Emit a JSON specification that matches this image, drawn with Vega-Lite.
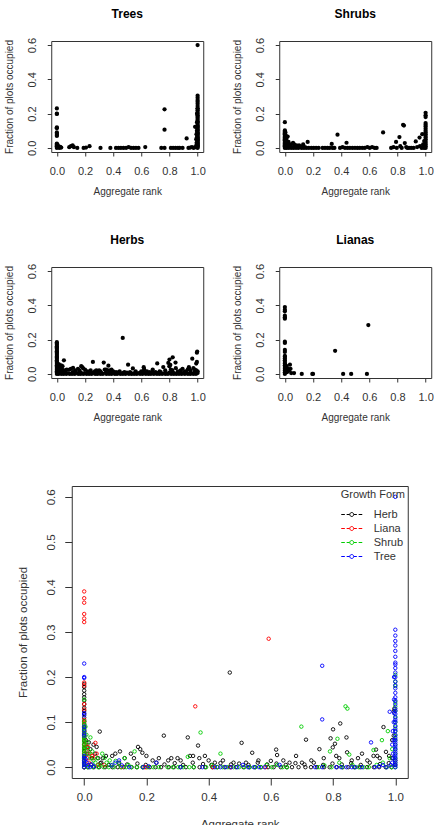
{
"$schema":"https://vega.github.io/schema/vega-lite/v6.json",
"background":"white",
"padding":{"left":3,"top":7,"right":0,"bottom":0},
"config":{
 "font":"Liberation Sans",
 "view":{"stroke":"#333","strokeWidth":1},
 "axis":{"domain":false,"grid":false,"tickColor":"#333","labelColor":"#333","titleColor":"#333","labelFont":"Liberation Sans","titleFont":"Liberation Sans","titleFontWeight":"normal","labelFontSize":11,"titleFontSize":10,"tickSize":4,"labelOverlap":false,"labelFlush":false},
 "axisX":{"labelPadding":9,"titlePadding":10},
 "axisY":{"labelAngle":-90,"labelAlign":"center","labelBaseline":"bottom","labelPadding":10,"titlePadding":12},
 "title":{"font":"Liberation Sans","fontSize":12,"fontWeight":"bold","color":"#000","offset":16,"frame":"group","anchor":"middle"}
},
"datasets":{"pts":[
{"form":"Herb","rank":0,"frac":0.185},{"form":"Herb","rank":0,"frac":0.178},{"form":"Herb","rank":0,"frac":0.17},{"form":"Herb","rank":0,"frac":0.162},{"form":"Herb","rank":0,"frac":0.155},{"form":"Herb","rank":0,"frac":0.148},{"form":"Herb","rank":0,"frac":0.14},{"form":"Herb","rank":0,"frac":0.132},{"form":"Herb","rank":0,"frac":0.125},{"form":"Herb","rank":0,"frac":0.118},{"form":"Herb","rank":0,"frac":0.11},{"form":"Herb","rank":0,"frac":0.102},{"form":"Herb","rank":0,"frac":0.095},{"form":"Herb","rank":0,"frac":0.088},{"form":"Herb","rank":0,"frac":0.08},{"form":"Herb","rank":0,"frac":0.072},{"form":"Herb","rank":0,"frac":0.065},{"form":"Herb","rank":0,"frac":0.058},{"form":"Herb","rank":0,"frac":0.05},{"form":"Herb","rank":0,"frac":0.043},{"form":"Herb","rank":0,"frac":0.036},{"form":"Herb","rank":0,"frac":0.029},{"form":"Herb","rank":0,"frac":0.022},{"form":"Herb","rank":0,"frac":0.015},{"form":"Herb","rank":0,"frac":0.008},{"form":"Herb","rank":0,"frac":0},
{"form":"Herb","rank":0.005,"frac":0.06},{"form":"Herb","rank":0.008,"frac":0.045},{"form":"Herb","rank":0.01,"frac":0.03},{"form":"Herb","rank":0.015,"frac":0.055},{"form":"Herb","rank":0.02,"frac":0.04},{"form":"Herb","rank":0.025,"frac":0.02},{"form":"Herb","rank":0.03,"frac":0.05},{"form":"Herb","rank":0.035,"frac":0.03},{"form":"Herb","rank":0.04,"frac":0.045},{"form":"Herb","rank":0.045,"frac":0.02},{"form":"Herb","rank":0.05,"frac":0.079},{"form":"Herb","rank":0.055,"frac":0.01},{"form":"Herb","rank":0.06,"frac":0.02},
{"form":"Herb","rank":0.012,"frac":0},{"form":"Herb","rank":0.031,"frac":0},{"form":"Herb","rank":0.048,"frac":0},{"form":"Herb","rank":0.067,"frac":0},{"form":"Herb","rank":0.091,"frac":0},{"form":"Herb","rank":0.108,"frac":0},{"form":"Herb","rank":0.127,"frac":0},{"form":"Herb","rank":0.152,"frac":0},{"form":"Herb","rank":0.169,"frac":0},{"form":"Herb","rank":0.188,"frac":0},{"form":"Herb","rank":0.211,"frac":0},{"form":"Herb","rank":0.229,"frac":0},{"form":"Herb","rank":0.247,"frac":0},{"form":"Herb","rank":0.272,"frac":0},{"form":"Herb","rank":0.288,"frac":0},{"form":"Herb","rank":0.309,"frac":0},{"form":"Herb","rank":0.327,"frac":0},{"form":"Herb","rank":0.352,"frac":0},{"form":"Herb","rank":0.371,"frac":0},{"form":"Herb","rank":0.389,"frac":0},{"form":"Herb","rank":0.412,"frac":0},{"form":"Herb","rank":0.428,"frac":0},{"form":"Herb","rank":0.451,"frac":0},{"form":"Herb","rank":0.469,"frac":0},{"form":"Herb","rank":0.488,"frac":0},{"form":"Herb","rank":0.512,"frac":0},{"form":"Herb","rank":0.531,"frac":0},{"form":"Herb","rank":0.549,"frac":0},{"form":"Herb","rank":0.568,"frac":0},{"form":"Herb","rank":0.591,"frac":0},{"form":"Herb","rank":0.609,"frac":0},{"form":"Herb","rank":0.632,"frac":0},{"form":"Herb","rank":0.651,"frac":0},{"form":"Herb","rank":0.668,"frac":0},{"form":"Herb","rank":0.689,"frac":0},{"form":"Herb","rank":0.711,"frac":0},{"form":"Herb","rank":0.729,"frac":0},{"form":"Herb","rank":0.748,"frac":0},{"form":"Herb","rank":0.771,"frac":0},{"form":"Herb","rank":0.789,"frac":0},{"form":"Herb","rank":0.812,"frac":0},{"form":"Herb","rank":0.831,"frac":0},{"form":"Herb","rank":0.849,"frac":0},{"form":"Herb","rank":0.868,"frac":0},{"form":"Herb","rank":0.887,"frac":0},{"form":"Herb","rank":0.909,"frac":0},{"form":"Herb","rank":0.931,"frac":0},{"form":"Herb","rank":0.948,"frac":0},{"form":"Herb","rank":0.969,"frac":0},{"form":"Herb","rank":0.988,"frac":0},
{"form":"Herb","rank":0.021,"frac":0.006},{"form":"Herb","rank":0.052,"frac":0.009},{"form":"Herb","rank":0.079,"frac":0.005},{"form":"Herb","rank":0.112,"frac":0.01},{"form":"Herb","rank":0.138,"frac":0.006},{"form":"Herb","rank":0.171,"frac":0.008},{"form":"Herb","rank":0.198,"frac":0.005},{"form":"Herb","rank":0.232,"frac":0.01},{"form":"Herb","rank":0.258,"frac":0.006},{"form":"Herb","rank":0.291,"frac":0.009},{"form":"Herb","rank":0.318,"frac":0.005},{"form":"Herb","rank":0.349,"frac":0.01},{"form":"Herb","rank":0.382,"frac":0.007},{"form":"Herb","rank":0.409,"frac":0.005},{"form":"Herb","rank":0.438,"frac":0.009},{"form":"Herb","rank":0.472,"frac":0.006},{"form":"Herb","rank":0.498,"frac":0.008},{"form":"Herb","rank":0.528,"frac":0.005},{"form":"Herb","rank":0.558,"frac":0.01},{"form":"Herb","rank":0.588,"frac":0.006},{"form":"Herb","rank":0.618,"frac":0.008},{"form":"Herb","rank":0.648,"frac":0.005},{"form":"Herb","rank":0.679,"frac":0.009},{"form":"Herb","rank":0.708,"frac":0.006},{"form":"Herb","rank":0.738,"frac":0.01},{"form":"Herb","rank":0.768,"frac":0.005},{"form":"Herb","rank":0.798,"frac":0.008},{"form":"Herb","rank":0.828,"frac":0.006},{"form":"Herb","rank":0.858,"frac":0.009},{"form":"Herb","rank":0.889,"frac":0.005},{"form":"Herb","rank":0.918,"frac":0.01},{"form":"Herb","rank":0.951,"frac":0.007},{"form":"Herb","rank":0.979,"frac":0.009},
{"form":"Herb","rank":0.07,"frac":0.025},{"form":"Herb","rank":0.09,"frac":0.025},{"form":"Herb","rank":0.1,"frac":0.03},{"form":"Herb","rank":0.115,"frac":0.035},{"form":"Herb","rank":0.13,"frac":0.02},{"form":"Herb","rank":0.15,"frac":0.03},{"form":"Herb","rank":0.16,"frac":0.02},{"form":"Herb","rank":0.173,"frac":0.045},{"form":"Herb","rank":0.18,"frac":0.04},{"form":"Herb","rank":0.187,"frac":0.032},{"form":"Herb","rank":0.2,"frac":0.025},{"form":"Herb","rank":0.22,"frac":0.015},{"form":"Herb","rank":0.24,"frac":0.02},{"form":"Herb","rank":0.256,"frac":0.07},{"form":"Herb","rank":0.27,"frac":0.015},{"form":"Herb","rank":0.28,"frac":0.02},{"form":"Herb","rank":0.3,"frac":0.02},{"form":"Herb","rank":0.31,"frac":0.015},{"form":"Herb","rank":0.333,"frac":0.066},{"form":"Herb","rank":0.34,"frac":0.025},{"form":"Herb","rank":0.35,"frac":0.025},{"form":"Herb","rank":0.366,"frac":0.048},{"form":"Herb","rank":0.37,"frac":0.02},{"form":"Herb","rank":0.388,"frac":0.025},{"form":"Herb","rank":0.4,"frac":0.015},{"form":"Herb","rank":0.42,"frac":0.01},{"form":"Herb","rank":0.446,"frac":0.015},{"form":"Herb","rank":0.468,"frac":0.21},{"form":"Herb","rank":0.48,"frac":0.01},{"form":"Herb","rank":0.506,"frac":0.054},{"form":"Herb","rank":0.52,"frac":0.01},{"form":"Herb","rank":0.54,"frac":0.032},{"form":"Herb","rank":0.56,"frac":0.015},{"form":"Herb","rank":0.6,"frac":0.014},{"form":"Herb","rank":0.617,"frac":0.039},{"form":"Herb","rank":0.62,"frac":0.027},{"form":"Herb","rank":0.64,"frac":0.015},{"form":"Herb","rank":0.66,"frac":0.01},{"form":"Herb","rank":0.681,"frac":0.025},{"form":"Herb","rank":0.7,"frac":0.01},{"form":"Herb","rank":0.713,"frac":0.061},{"form":"Herb","rank":0.73,"frac":0.015},{"form":"Herb","rank":0.756,"frac":0.04},{"form":"Herb","rank":0.77,"frac":0.02},{"form":"Herb","rank":0.792,"frac":0.064},{"form":"Herb","rank":0.8,"frac":0.084},{"form":"Herb","rank":0.806,"frac":0.052},{"form":"Herb","rank":0.799,"frac":0.044},{"form":"Herb","rank":0.81,"frac":0.025},{"form":"Herb","rank":0.823,"frac":0.097},{"form":"Herb","rank":0.82,"frac":0.02},{"form":"Herb","rank":0.843,"frac":0.066},{"form":"Herb","rank":0.845,"frac":0.033},{"form":"Herb","rank":0.86,"frac":0.015},{"form":"Herb","rank":0.88,"frac":0.02},{"form":"Herb","rank":0.893,"frac":0.03},{"form":"Herb","rank":0.91,"frac":0.015},{"form":"Herb","rank":0.93,"frac":0.025},{"form":"Herb","rank":0.938,"frac":0.039},{"form":"Herb","rank":0.942,"frac":0.025},{"form":"Herb","rank":0.95,"frac":0.02},{"form":"Herb","rank":0.962,"frac":0.089},{"form":"Herb","rank":0.97,"frac":0.034},{"form":"Herb","rank":0.98,"frac":0.025},{"form":"Herb","rank":0.99,"frac":0.02},{"form":"Herb","rank":0.995,"frac":0.124},{"form":"Herb","rank":0.997,"frac":0.13},{"form":"Herb","rank":0.995,"frac":0.07},{"form":"Herb","rank":0.99,"frac":0.06},{"form":"Herb","rank":1,"frac":0.015},{"form":"Herb","rank":1,"frac":0.005},
{"form":"Liana","rank":0,"frac":0.39},{"form":"Liana","rank":0,"frac":0.375},{"form":"Liana","rank":0,"frac":0.365},{"form":"Liana","rank":0,"frac":0.34},{"form":"Liana","rank":0,"frac":0.33},{"form":"Liana","rank":0,"frac":0.322},{"form":"Liana","rank":0,"frac":0.188},{"form":"Liana","rank":0,"frac":0.181},{"form":"Liana","rank":0,"frac":0.14},{"form":"Liana","rank":0,"frac":0.128},{"form":"Liana","rank":0,"frac":0.105},{"form":"Liana","rank":0,"frac":0.1},{"form":"Liana","rank":0,"frac":0.09},{"form":"Liana","rank":0,"frac":0.08},{"form":"Liana","rank":0,"frac":0.07},{"form":"Liana","rank":0,"frac":0.06},{"form":"Liana","rank":0,"frac":0.05},{"form":"Liana","rank":0,"frac":0.04},{"form":"Liana","rank":0,"frac":0.03},{"form":"Liana","rank":0,"frac":0.02},{"form":"Liana","rank":0,"frac":0.01},{"form":"Liana","rank":0,"frac":0},
{"form":"Liana","rank":0.005,"frac":0.05},{"form":"Liana","rank":0.008,"frac":0.035},{"form":"Liana","rank":0.01,"frac":0.02},{"form":"Liana","rank":0.012,"frac":0.045},{"form":"Liana","rank":0.015,"frac":0.01},{"form":"Liana","rank":0.02,"frac":0.03},{"form":"Liana","rank":0.025,"frac":0.025},{"form":"Liana","rank":0.03,"frac":0.02},{"form":"Liana","rank":0.036,"frac":0.054},{"form":"Liana","rank":0.04,"frac":0.03},{"form":"Liana","rank":0.045,"frac":0.005},{"form":"Liana","rank":0.065,"frac":0.005},
{"form":"Liana","rank":0.12,"frac":0},{"form":"Liana","rank":0.195,"frac":0},{"form":"Liana","rank":0.2,"frac":0},{"form":"Liana","rank":0.357,"frac":0.135},{"form":"Liana","rank":0.414,"frac":0},{"form":"Liana","rank":0.471,"frac":0},{"form":"Liana","rank":0.583,"frac":0},{"form":"Liana","rank":0.593,"frac":0.285},
{"form":"Shrub","rank":0,"frac":0.15},{"form":"Shrub","rank":0,"frac":0.102},{"form":"Shrub","rank":0,"frac":0.096},{"form":"Shrub","rank":0,"frac":0.09},{"form":"Shrub","rank":0,"frac":0.085},{"form":"Shrub","rank":0,"frac":0.08},{"form":"Shrub","rank":0,"frac":0.075},{"form":"Shrub","rank":0,"frac":0.07},{"form":"Shrub","rank":0,"frac":0.065},{"form":"Shrub","rank":0,"frac":0.06},{"form":"Shrub","rank":0,"frac":0.055},{"form":"Shrub","rank":0,"frac":0.05},{"form":"Shrub","rank":0,"frac":0.045},{"form":"Shrub","rank":0,"frac":0.04},{"form":"Shrub","rank":0,"frac":0.035},{"form":"Shrub","rank":0,"frac":0.03},{"form":"Shrub","rank":0,"frac":0.025},{"form":"Shrub","rank":0,"frac":0.02},{"form":"Shrub","rank":0,"frac":0.015},{"form":"Shrub","rank":0,"frac":0.01},{"form":"Shrub","rank":0,"frac":0.005},{"form":"Shrub","rank":0,"frac":0},
{"form":"Shrub","rank":0.004,"frac":0.09},{"form":"Shrub","rank":0.007,"frac":0.072},{"form":"Shrub","rank":0.01,"frac":0.055},{"form":"Shrub","rank":0.012,"frac":0.042},{"form":"Shrub","rank":0.015,"frac":0.03},{"form":"Shrub","rank":0.02,"frac":0.066},{"form":"Shrub","rank":0.021,"frac":0.02},{"form":"Shrub","rank":0.026,"frac":0.035},{"form":"Shrub","rank":0.03,"frac":0.015},{"form":"Shrub","rank":0.036,"frac":0.01},{"form":"Shrub","rank":0.042,"frac":0.02},{"form":"Shrub","rank":0.05,"frac":0.005},{"form":"Shrub","rank":0.058,"frac":0.03},{"form":"Shrub","rank":0.066,"frac":0.021},{"form":"Shrub","rank":0.072,"frac":0.01},{"form":"Shrub","rank":0.082,"frac":0.015},{"form":"Shrub","rank":0.09,"frac":0.005},{"form":"Shrub","rank":0.101,"frac":0.014},{"form":"Shrub","rank":0.112,"frac":0.008},{"form":"Shrub","rank":0.13,"frac":0.02},{"form":"Shrub","rank":0.142,"frac":0.005},{"form":"Shrub","rank":0.162,"frac":0.035},
{"form":"Shrub","rank":0.012,"frac":0},{"form":"Shrub","rank":0.028,"frac":0},{"form":"Shrub","rank":0.045,"frac":0},{"form":"Shrub","rank":0.062,"frac":0},{"form":"Shrub","rank":0.079,"frac":0},{"form":"Shrub","rank":0.096,"frac":0},{"form":"Shrub","rank":0.118,"frac":0},{"form":"Shrub","rank":0.135,"frac":0},{"form":"Shrub","rank":0.152,"frac":0},{"form":"Shrub","rank":0.17,"frac":0},{"form":"Shrub","rank":0.188,"frac":0},{"form":"Shrub","rank":0.205,"frac":0},{"form":"Shrub","rank":0.222,"frac":0},{"form":"Shrub","rank":0.24,"frac":0},
{"form":"Shrub","rank":0.268,"frac":0},{"form":"Shrub","rank":0.285,"frac":0},{"form":"Shrub","rank":0.302,"frac":0},{"form":"Shrub","rank":0.318,"frac":0},{"form":"Shrub","rank":0.333,"frac":0.023},{"form":"Shrub","rank":0.338,"frac":0},{"form":"Shrub","rank":0.352,"frac":0},{"form":"Shrub","rank":0.374,"frac":0.077},
{"form":"Shrub","rank":0.392,"frac":0},{"form":"Shrub","rank":0.41,"frac":0.004},{"form":"Shrub","rank":0.427,"frac":0},{"form":"Shrub","rank":0.438,"frac":0.03},{"form":"Shrub","rank":0.445,"frac":0},{"form":"Shrub","rank":0.462,"frac":0},{"form":"Shrub","rank":0.48,"frac":0},{"form":"Shrub","rank":0.498,"frac":0},{"form":"Shrub","rank":0.515,"frac":0},{"form":"Shrub","rank":0.532,"frac":0},{"form":"Shrub","rank":0.55,"frac":0},{"form":"Shrub","rank":0.568,"frac":0},{"form":"Shrub","rank":0.586,"frac":0.005},{"form":"Shrub","rank":0.603,"frac":0},{"form":"Shrub","rank":0.62,"frac":0.005},{"form":"Shrub","rank":0.638,"frac":0},{"form":"Shrub","rank":0.652,"frac":0},{"form":"Shrub","rank":0.698,"frac":0.09},
{"form":"Shrub","rank":0.755,"frac":0},{"form":"Shrub","rank":0.772,"frac":0.004},{"form":"Shrub","rank":0.79,"frac":0.035},{"form":"Shrub","rank":0.795,"frac":0},{"form":"Shrub","rank":0.814,"frac":0.063},{"form":"Shrub","rank":0.82,"frac":0.01},{"form":"Shrub","rank":0.83,"frac":0},{"form":"Shrub","rank":0.84,"frac":0.135},{"form":"Shrub","rank":0.846,"frac":0.13},{"form":"Shrub","rank":0.852,"frac":0.028},{"form":"Shrub","rank":0.862,"frac":0.005},{"form":"Shrub","rank":0.87,"frac":0},{"form":"Shrub","rank":0.882,"frac":0},
{"form":"Shrub","rank":0.898,"frac":0},{"form":"Shrub","rank":0.915,"frac":0},{"form":"Shrub","rank":0.93,"frac":0.038},{"form":"Shrub","rank":0.94,"frac":0.005},{"form":"Shrub","rank":0.957,"frac":0.06},{"form":"Shrub","rank":0.96,"frac":0.01},{"form":"Shrub","rank":0.972,"frac":0},{"form":"Shrub","rank":0.976,"frac":0.08},{"form":"Shrub","rank":0.982,"frac":0.02},{"form":"Shrub","rank":0.99,"frac":0.04},{"form":"Shrub","rank":0.988,"frac":0},
{"form":"Shrub","rank":1,"frac":0.205},{"form":"Shrub","rank":1,"frac":0.19},{"form":"Shrub","rank":1,"frac":0.18},{"form":"Shrub","rank":1,"frac":0.145},{"form":"Shrub","rank":1,"frac":0.135},{"form":"Shrub","rank":1,"frac":0.125},{"form":"Shrub","rank":1,"frac":0.112},{"form":"Shrub","rank":1,"frac":0.1},{"form":"Shrub","rank":1,"frac":0.09},{"form":"Shrub","rank":1,"frac":0.08},{"form":"Shrub","rank":1,"frac":0.07},{"form":"Shrub","rank":1,"frac":0.06},{"form":"Shrub","rank":1,"frac":0.05},{"form":"Shrub","rank":1,"frac":0.04},{"form":"Shrub","rank":1,"frac":0.03},{"form":"Shrub","rank":1,"frac":0.02},{"form":"Shrub","rank":1,"frac":0.01},{"form":"Shrub","rank":1,"frac":0},
{"form":"Tree","rank":0,"frac":0.23},{"form":"Tree","rank":0,"frac":0.2},{"form":"Tree","rank":0,"frac":0.198},{"form":"Tree","rank":0,"frac":0.12},{"form":"Tree","rank":0,"frac":0.115},{"form":"Tree","rank":0,"frac":0.09},{"form":"Tree","rank":0,"frac":0.083},{"form":"Tree","rank":0,"frac":0.075},{"form":"Tree","rank":0,"frac":0.07},{"form":"Tree","rank":0,"frac":0.025},{"form":"Tree","rank":0,"frac":0.02},{"form":"Tree","rank":0,"frac":0.014},{"form":"Tree","rank":0,"frac":0.01},{"form":"Tree","rank":0,"frac":0.005},{"form":"Tree","rank":0,"frac":0},
{"form":"Tree","rank":0.005,"frac":0.018},{"form":"Tree","rank":0.009,"frac":0.01},{"form":"Tree","rank":0.013,"frac":0.004},{"form":"Tree","rank":0.018,"frac":0},{"form":"Tree","rank":0.024,"frac":0.006},{"form":"Tree","rank":0.031,"frac":0.002},
{"form":"Tree","rank":0.088,"frac":0.004},{"form":"Tree","rank":0.1,"frac":0.01},{"form":"Tree","rank":0.112,"frac":0.015},{"form":"Tree","rank":0.121,"frac":0.004},{"form":"Tree","rank":0.145,"frac":0},{"form":"Tree","rank":0.19,"frac":0},{"form":"Tree","rank":0.207,"frac":0.002},{"form":"Tree","rank":0.232,"frac":0.01},{"form":"Tree","rank":0.31,"frac":0},
{"form":"Tree","rank":0.38,"frac":0},{"form":"Tree","rank":0.42,"frac":0},{"form":"Tree","rank":0.438,"frac":0},{"form":"Tree","rank":0.455,"frac":0},{"form":"Tree","rank":0.473,"frac":0},{"form":"Tree","rank":0.492,"frac":0},{"form":"Tree","rank":0.51,"frac":0.005},{"form":"Tree","rank":0.527,"frac":0},{"form":"Tree","rank":0.545,"frac":0},{"form":"Tree","rank":0.562,"frac":0},{"form":"Tree","rank":0.58,"frac":0},{"form":"Tree","rank":0.628,"frac":0.005},
{"form":"Tree","rank":0.742,"frac":0},{"form":"Tree","rank":0.765,"frac":0},{"form":"Tree","rank":0.765,"frac":0.225},{"form":"Tree","rank":0.765,"frac":0.106},
{"form":"Tree","rank":0.81,"frac":0},{"form":"Tree","rank":0.826,"frac":0},{"form":"Tree","rank":0.843,"frac":0},{"form":"Tree","rank":0.86,"frac":0},{"form":"Tree","rank":0.872,"frac":0},{"form":"Tree","rank":0.893,"frac":0},
{"form":"Tree","rank":0.922,"frac":0.055},{"form":"Tree","rank":0.935,"frac":0},{"form":"Tree","rank":0.948,"frac":0.002},{"form":"Tree","rank":0.96,"frac":0.005},{"form":"Tree","rank":0.972,"frac":0},{"form":"Tree","rank":0.982,"frac":0.123},{"form":"Tree","rank":0.985,"frac":0.005},{"form":"Tree","rank":0.99,"frac":0.01},{"form":"Tree","rank":0.993,"frac":0.03},{"form":"Tree","rank":0.99,"frac":0.05},{"form":"Tree","rank":0.992,"frac":0.08},
{"form":"Tree","rank":0.996,"frac":0.2},{"form":"Tree","rank":0.996,"frac":0.15},{"form":"Tree","rank":0.996,"frac":0.12},{"form":"Tree","rank":0.995,"frac":0.1},{"form":"Tree","rank":0.995,"frac":0.06},{"form":"Tree","rank":0.994,"frac":0.02},
{"form":"Tree","rank":1,"frac":0.6},{"form":"Tree","rank":1,"frac":0.305},{"form":"Tree","rank":1,"frac":0.292},{"form":"Tree","rank":1,"frac":0.28},{"form":"Tree","rank":1,"frac":0.27},{"form":"Tree","rank":1,"frac":0.258},{"form":"Tree","rank":1,"frac":0.245},{"form":"Tree","rank":1,"frac":0.232},{"form":"Tree","rank":1,"frac":0.228},{"form":"Tree","rank":1,"frac":0.22},{"form":"Tree","rank":1,"frac":0.21},{"form":"Tree","rank":1,"frac":0.2},{"form":"Tree","rank":1,"frac":0.19},{"form":"Tree","rank":1,"frac":0.182},{"form":"Tree","rank":1,"frac":0.175},{"form":"Tree","rank":1,"frac":0.165},{"form":"Tree","rank":1,"frac":0.155},{"form":"Tree","rank":1,"frac":0.148},{"form":"Tree","rank":1,"frac":0.14},{"form":"Tree","rank":1,"frac":0.13},{"form":"Tree","rank":1,"frac":0.125},{"form":"Tree","rank":1,"frac":0.118},{"form":"Tree","rank":1,"frac":0.11},{"form":"Tree","rank":1,"frac":0.105},{"form":"Tree","rank":1,"frac":0.1},{"form":"Tree","rank":1,"frac":0.092},{"form":"Tree","rank":1,"frac":0.085},{"form":"Tree","rank":1,"frac":0.08},{"form":"Tree","rank":1,"frac":0.072},{"form":"Tree","rank":1,"frac":0.065},{"form":"Tree","rank":1,"frac":0.06},{"form":"Tree","rank":1,"frac":0.055},{"form":"Tree","rank":1,"frac":0.05},{"form":"Tree","rank":1,"frac":0.045},{"form":"Tree","rank":1,"frac":0.04},{"form":"Tree","rank":1,"frac":0.035},{"form":"Tree","rank":1,"frac":0.03},{"form":"Tree","rank":1,"frac":0.025},{"form":"Tree","rank":1,"frac":0.02},{"form":"Tree","rank":1,"frac":0.015},{"form":"Tree","rank":1,"frac":0.01},{"form":"Tree","rank":1,"frac":0.005},{"form":"Tree","rank":1,"frac":0}
]},
"vconcat":[
 {"concat":[
  {"title":"Trees","width":152,"height":111,"data":{"name":"pts"},"transform":[{"filter":"datum.form === 'Tree'"}],
   "mark":{"type":"circle","size":18,"color":"#000","opacity":1},
   "encoding":{
    "x":{"field":"rank","type":"quantitative","scale":{"domain":[-0.04,1.04],"nice":false,"zero":false},"axis":{"title":"Aggregate rank","values":[0,0.2,0.4,0.6,0.8,1],"format":".1f"}},
    "y":{"field":"frac","type":"quantitative","scale":{"domain":[-0.024,0.624],"nice":false,"zero":false},"axis":{"title":"Fraction of plots occupied","values":[0,0.2,0.4,0.6],"format":".1f"}}}},
  {"title":"Shrubs","width":152,"height":111,"data":{"name":"pts"},"transform":[{"filter":"datum.form === 'Shrub'"}],
   "mark":{"type":"circle","size":18,"color":"#000","opacity":1},
   "encoding":{
    "x":{"field":"rank","type":"quantitative","scale":{"domain":[-0.04,1.04],"nice":false,"zero":false},"axis":{"title":"Aggregate rank","values":[0,0.2,0.4,0.6,0.8,1],"format":".1f"}},
    "y":{"field":"frac","type":"quantitative","scale":{"domain":[-0.024,0.624],"nice":false,"zero":false},"axis":{"title":"Fraction of plots occupied","values":[0,0.2,0.4,0.6],"format":".1f"}}}},
  {"title":"Herbs","width":152,"height":111,"data":{"name":"pts"},"transform":[{"filter":"datum.form === 'Herb'"}],
   "mark":{"type":"circle","size":18,"color":"#000","opacity":1},
   "encoding":{
    "x":{"field":"rank","type":"quantitative","scale":{"domain":[-0.04,1.04],"nice":false,"zero":false},"axis":{"title":"Aggregate rank","values":[0,0.2,0.4,0.6,0.8,1],"format":".1f"}},
    "y":{"field":"frac","type":"quantitative","scale":{"domain":[-0.024,0.624],"nice":false,"zero":false},"axis":{"title":"Fraction of plots occupied","values":[0,0.2,0.4,0.6],"format":".1f"}}}},
  {"title":"Lianas","width":152,"height":111,"data":{"name":"pts"},"transform":[{"filter":"datum.form === 'Liana'"}],
   "mark":{"type":"circle","size":18,"color":"#000","opacity":1},
   "encoding":{
    "x":{"field":"rank","type":"quantitative","scale":{"domain":[-0.04,1.04],"nice":false,"zero":false},"axis":{"title":"Aggregate rank","values":[0,0.2,0.4,0.6,0.8,1],"format":".1f"}},
    "y":{"field":"frac","type":"quantitative","scale":{"domain":[-0.024,0.624],"nice":false,"zero":false},"axis":{"title":"Fraction of plots occupied","values":[0,0.2,0.4,0.6],"format":".1f"}}}}
 ],"columns":2,"spacing":{"row":36,"column":25}},
 {"width":336,"height":292,"data":{"name":"pts"},
  "mark":{"type":"point","filled":false,"size":12,"strokeWidth":0.9,"opacity":1},
  "encoding":{
   "x":{"field":"rank","type":"quantitative","scale":{"domain":[-0.04,1.04],"nice":false,"zero":false},"axis":{"title":"Aggregate rank","values":[0,0.2,0.4,0.6,0.8,1],"format":".1f","labelFontSize":11.5,"titleFontSize":11.5,"tickSize":7,"labelPadding":6,"titlePadding":16}},
   "y":{"field":"frac","type":"quantitative","scale":{"domain":[-0.024,0.624],"nice":false,"zero":false},"axis":{"title":"Fraction of plots occupied","values":[0,0.1,0.2,0.3,0.4,0.5,0.6],"format":".1f","labelFontSize":11.5,"titleFontSize":11.5,"tickSize":7,"labelPadding":8,"titlePadding":17}},
   "color":{"field":"form","type":"nominal","scale":{"domain":["Herb","Liana","Shrub","Tree"],"range":["#000000","#FF0000","#00CD00","#0000FF"]},
    "legend":{"title":"Growth Form","orient":"none","legendX":262,"legendY":-4,"padding":7,"symbolType":"M-1,0H-0.4M-0.1,0H0.4M1.08,0A0.33,0.33,0,1,1,0.42,0A0.33,0.33,0,1,1,1.08,0M1.1,0H1.6M1.9,0H2.5","symbolSize":144,"symbolStrokeWidth":1,"labelFontSize":11,"titleFontSize":11,"titleFontWeight":"normal","labelColor":"#333","titleColor":"#333","labelOffset":20,"rowPadding":2,"titlePadding":8,"labelFont":"Liberation Sans","titleFont":"Liberation Sans"}}
  }}
],
"resolve":{"legend":{"color":"independent"},"scale":{"color":"independent"}},
"spacing":58,
"center":true
}
